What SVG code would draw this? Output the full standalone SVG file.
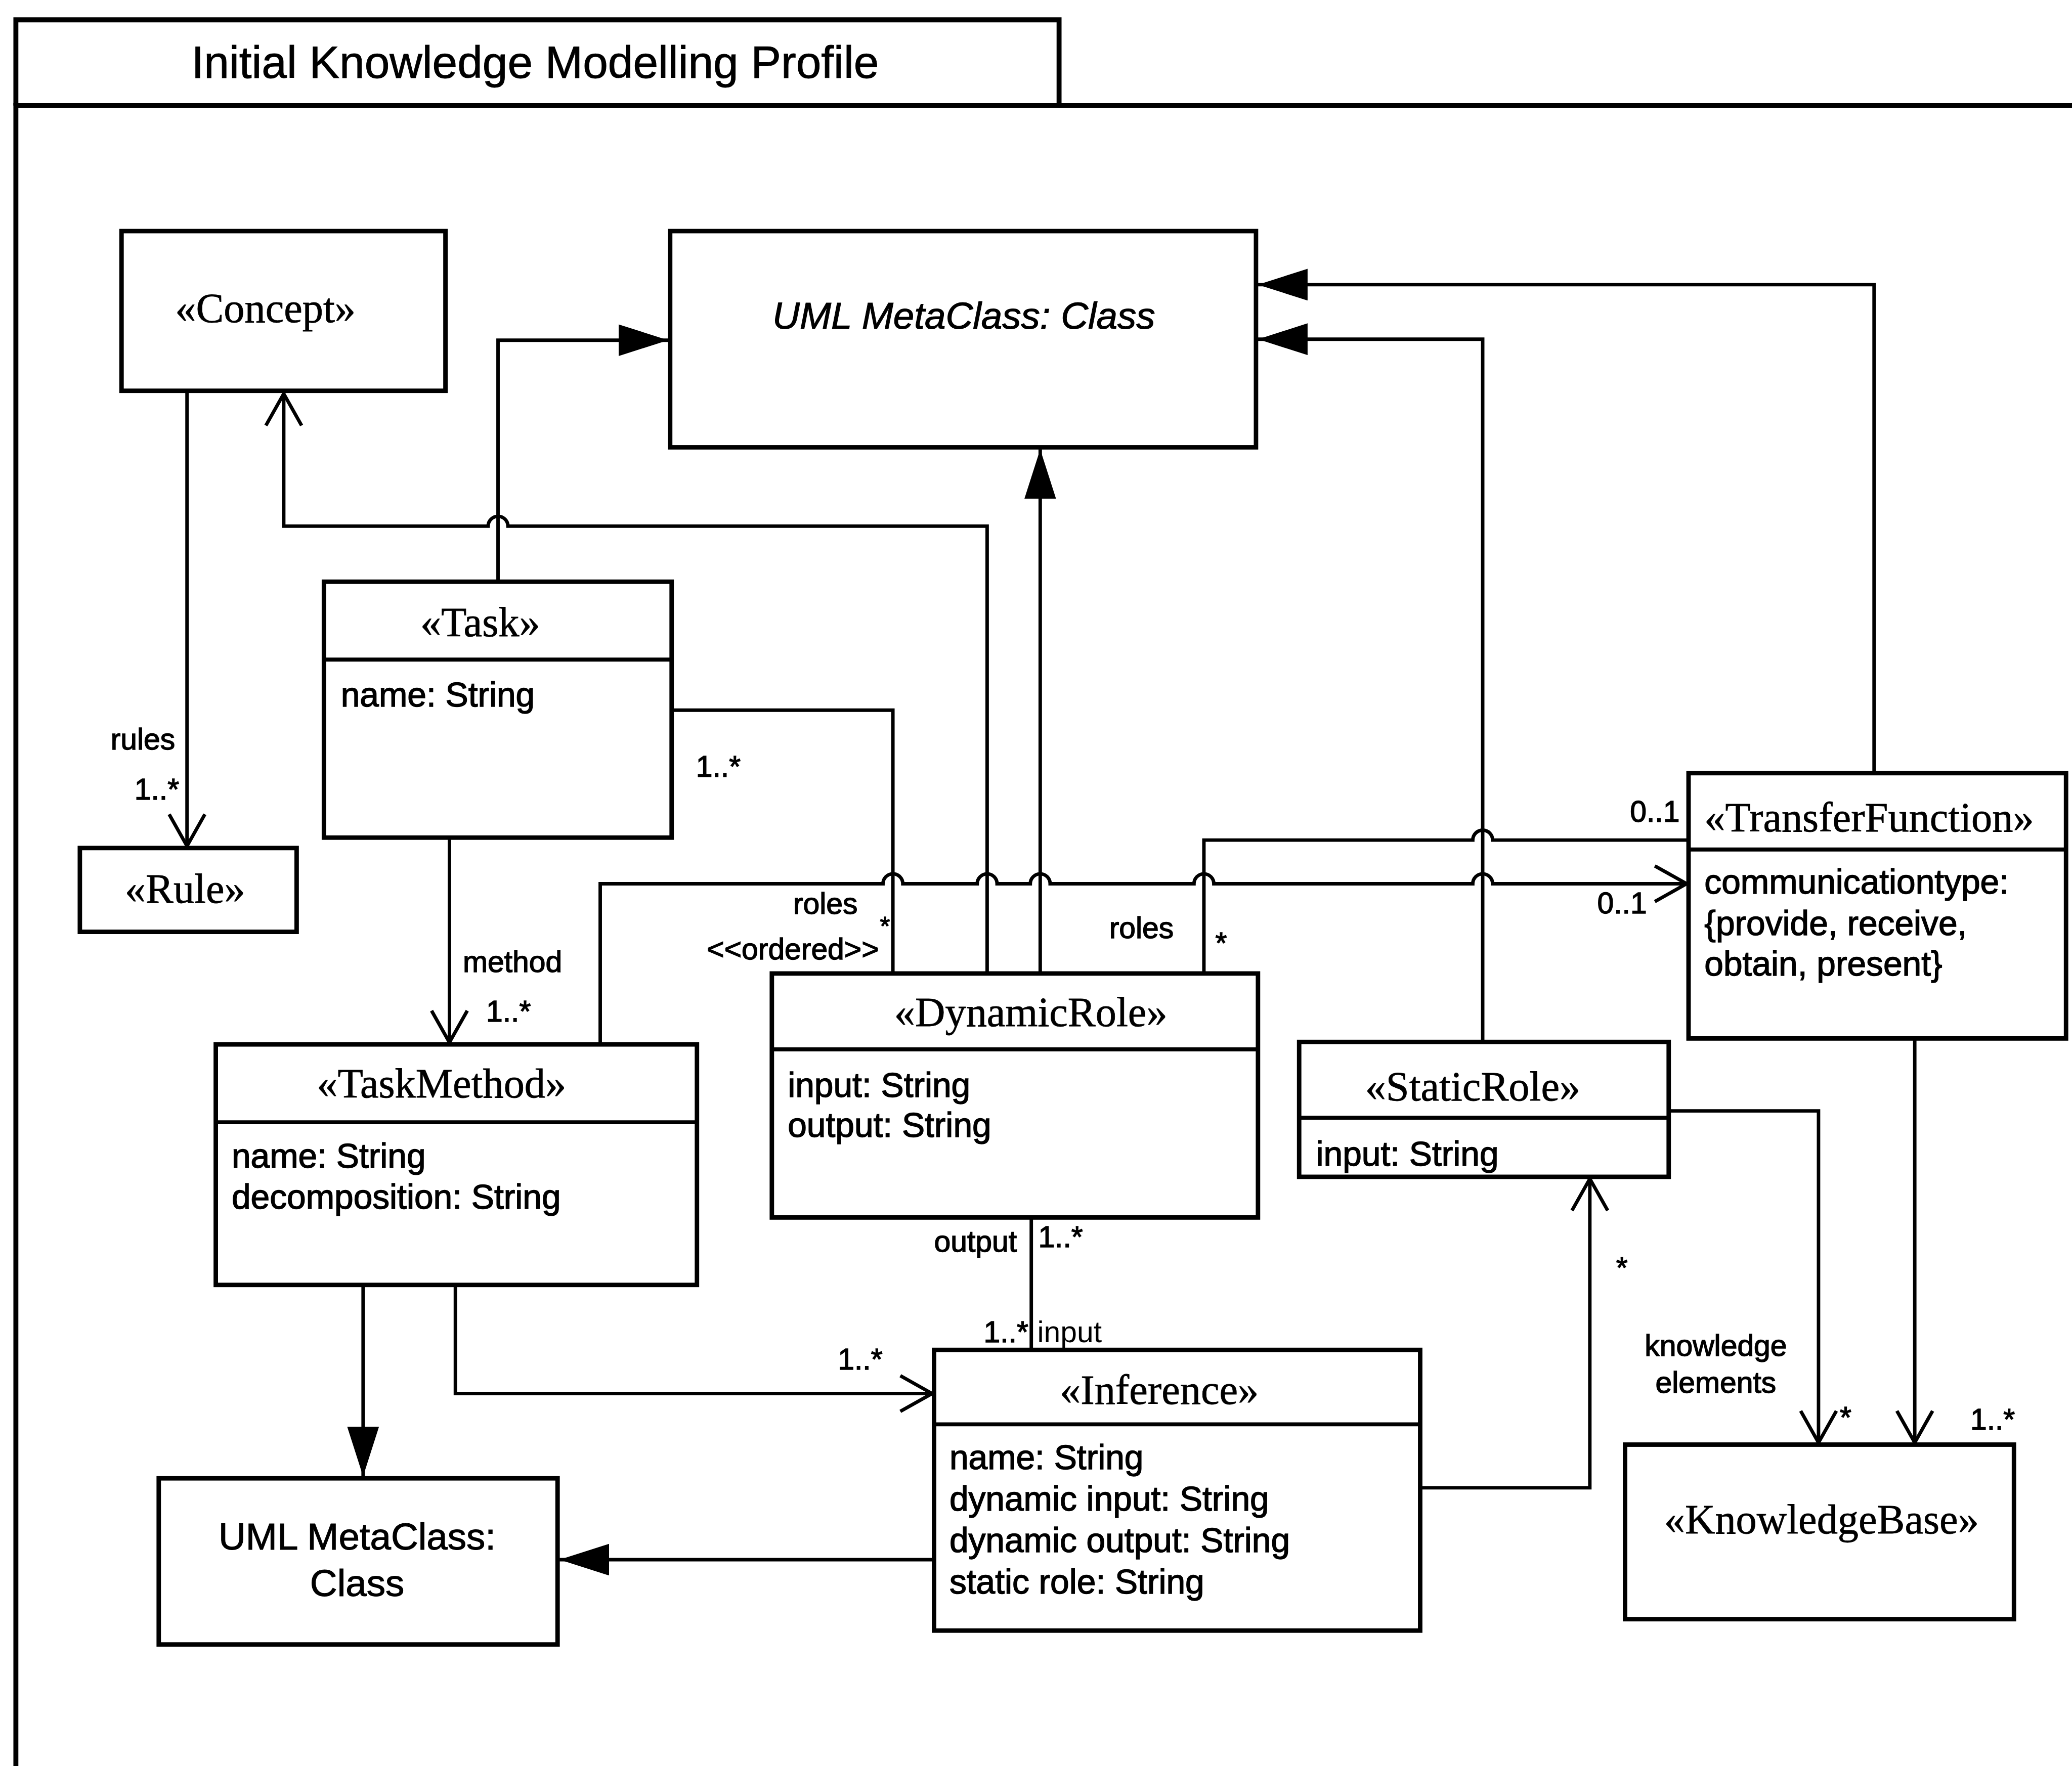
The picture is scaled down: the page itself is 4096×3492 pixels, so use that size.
<svg xmlns="http://www.w3.org/2000/svg" width="4096" height="3492" viewBox="0 0 4096 3492">
  <defs>
    <style>
      .frame{fill:none;stroke:#000;stroke-width:10}
      .box{fill:#fff;stroke:#000;stroke-width:9}
      .div{stroke:#000;stroke-width:8}
      .ln{fill:none;stroke:#000;stroke-width:7}
      .st{font-family:"Liberation Serif","Times New Roman",serif;font-size:84px;text-anchor:middle;fill:#000;stroke:#000;stroke-width:0.8}
      .at{font-family:"Liberation Sans",Arial,sans-serif;font-size:69px;fill:#000;stroke:#000;stroke-width:1.5}
      .lb{font-family:"Liberation Sans",Arial,sans-serif;font-size:60px;fill:#000;stroke:#000;stroke-width:1.5}
      .ttl{font-family:"Liberation Sans",Arial,sans-serif;font-size:91px;fill:#000;stroke:#000;stroke-width:1}
      .meta{font-family:"Liberation Sans",Arial,sans-serif;font-size:76px;fill:#000;stroke:#000;stroke-width:1.2}
    </style>
    <!-- filled triangle: generalization -->
    <marker id="tri" viewBox="0 0 100 64" refX="100" refY="32" markerWidth="100" markerHeight="64" markerUnits="userSpaceOnUse" orient="auto">
      <path d="M0,0 L100,32 L0,64 Z" fill="#000"/>
    </marker>
    <!-- open V arrowhead: navigable association -->
    <marker id="open" viewBox="-6 -6 76 84" refX="64" refY="36" markerWidth="76" markerHeight="84" markerUnits="userSpaceOnUse" orient="auto">
      <path d="M0,0 L64,36 L0,72" fill="none" stroke="#000" stroke-width="7"/>
    </marker>
  </defs>

  <rect width="4096" height="3492" fill="#fff"/>

  <g transform="scale(0.980608)">
    <!-- package frame with name tab -->
    <g id="package">
      <path class="frame" d="M32,3561 V213 H4177"/>
      <path class="frame" d="M32,213 V40 H2135 V213"/>
      <text class="ttl" x="386" y="157">Initial Knowledge Modelling Profile</text>
    </g>

    <!-- connectors -->
    <g id="connectors">
      <path class="ln" d="M377,790 V1706" marker-end="url(#open)"/>
      <path class="ln" d="M1990,1963 V1061 H1024 A20,20 0 0 0 984,1061 H572 V794" marker-end="url(#open)"/>
      <path class="ln" d="M1004,1173 V686 H1347" marker-end="url(#tri)"/>
      <path class="ln" d="M2097,1963 V906" marker-end="url(#tri)"/>
      <path class="ln" d="M2989,2101 V684 H2536" marker-end="url(#tri)"/>
      <path class="ln" d="M3778,1559 V574 H2536" marker-end="url(#tri)"/>
      <path class="ln" d="M1354,1432 H1800 V1963"/>
      <path class="ln" d="M1210,2106 V1782 H1780 A20,20 0 0 1 1820,1782 H1970 A20,20 0 0 1 2010,1782 H2077 A20,20 0 0 1 2117,1782 H2407 A20,20 0 0 1 2447,1782 H2969 A20,20 0 0 1 3009,1782 H3400" marker-end="url(#open)"/>
      <path class="ln" d="M2427,1963 V1694 H2969 A20,20 0 0 1 3009,1694 H3404"/>
      <path class="ln" d="M906,1689 V2102" marker-end="url(#open)"/>
      <path class="ln" d="M732,2591 V2977" marker-end="url(#tri)"/>
      <path class="ln" d="M918,2591 V2810 H1879" marker-end="url(#open)"/>
      <path class="ln" d="M2079,2455 V2722"/>
      <path class="ln" d="M1883,3145 H1128" marker-end="url(#tri)"/>
      <path class="ln" d="M2863,3000 H3205 V2377" marker-end="url(#open)"/>
      <path class="ln" d="M3364,2240 H3666 V2909" marker-end="url(#open)"/>
      <path class="ln" d="M3860,2094 V2909" marker-end="url(#open)"/>

      <!-- role names and multiplicities -->
      <text class="lb" x="223" y="1511">rules</text>
      <text class="lb" x="271" y="1612">1..*</text>
      <text class="lb" x="1403" y="1566">1..*</text>
      <text class="lb" x="933" y="1960">method</text>
      <text class="lb" x="980" y="2060">1..*</text>
      <text class="lb" x="1599" y="1843">roles</text>
      <text class="lb" x="1774" y="1886" style="font-size:52px">*</text>
      <text class="lb" x="1425" y="1935">&lt;&lt;ordered&gt;&gt;</text>
      <text class="lb" x="2236" y="1892">roles</text>
      <text class="lb" x="2450" y="1922">*</text>
      <text class="lb" x="3286" y="1657">0..1</text>
      <text class="lb" x="3220" y="1842">0..1</text>
      <text class="lb" x="1883" y="2524">output</text>
      <text class="lb" x="2093" y="2515">1..*</text>
      <text class="lb" x="1983" y="2706">1..*</text>
      <text class="lb" x="2091" y="2706" style="stroke-width:0">input</text>
      <text class="lb" x="1689" y="2762">1..*</text>
      <text class="lb" x="3258" y="2577">*</text>
      <text class="lb" x="3459" y="2734" style="text-anchor:middle">knowledge</text>
      <text class="lb" x="3459" y="2808" style="text-anchor:middle">elements</text>
      <text class="lb" x="3709" y="2879">*</text>
      <text class="lb" x="3972" y="2883">1..*</text>
    </g>

    <!-- classes -->
    <g id="concept">
      <rect class="box" x="245" y="466" width="653" height="322"/>
      <text class="st" x="535" y="650">«Concept»</text>
    </g>

    <g id="uml-metaclass-top">
      <rect class="box" x="1351" y="466" width="1181" height="436"/>
      <text class="meta" x="1943" y="663" style="text-anchor:middle;font-style:italic">UML MetaClass: Class</text>
    </g>

    <g id="task">
      <rect class="box" x="653" y="1173" width="701" height="516"/>
      <line class="div" x1="653" y1="1330" x2="1354" y2="1330"/>
      <text class="st" x="968" y="1283">«Task»</text>
      <text class="at" x="687" y="1425">name: String</text>
    </g>

    <g id="rule">
      <rect class="box" x="161" y="1710" width="437" height="169"/>
      <text class="st" x="373" y="1820">«Rule»</text>
    </g>

    <g id="task-method">
      <rect class="box" x="435" y="2106" width="970" height="485"/>
      <line class="div" x1="435" y1="2263" x2="1405" y2="2263"/>
      <text class="st" x="890" y="2213">«TaskMethod»</text>
      <text class="at" x="467" y="2355">name: String</text>
      <text class="at" x="467" y="2437">decomposition: String</text>
    </g>

    <g id="dynamic-role">
      <rect class="box" x="1556" y="1963" width="980" height="492"/>
      <line class="div" x1="1556" y1="2116" x2="2536" y2="2116"/>
      <text class="st" x="2078" y="2069">«DynamicRole»</text>
      <text class="at" x="1588" y="2212">input: String</text>
      <text class="at" x="1588" y="2292">output: String</text>
    </g>

    <g id="static-role">
      <rect class="box" x="2619" y="2101" width="745" height="272"/>
      <line class="div" x1="2619" y1="2254" x2="3364" y2="2254"/>
      <text class="st" x="2969" y="2219">«StaticRole»</text>
      <text class="at" x="2653" y="2351">input: String</text>
    </g>

    <g id="transfer-function">
      <rect class="box" x="3404" y="1559" width="761" height="535"/>
      <line class="div" x1="3404" y1="1713" x2="4165" y2="1713"/>
      <text class="st" x="3436" y="1677" style="text-anchor:start">«TransferFunction»</text>
      <text class="at" x="3436" y="1802">communicationtype:</text>
      <text class="at" x="3436" y="1886">{provide, receive,</text>
      <text class="at" x="3436" y="1967">obtain, present}</text>
    </g>

    <g id="inference">
      <rect class="box" x="1883" y="2722" width="980" height="566"/>
      <line class="div" x1="1883" y1="2872" x2="2863" y2="2872"/>
      <text class="st" x="2337" y="2831">«Inference»</text>
      <text class="at" x="1914" y="2962">name: String</text>
      <text class="at" x="1914" y="3046">dynamic input: String</text>
      <text class="at" x="1914" y="3130">dynamic output: String</text>
      <text class="at" x="1914" y="3213">static role: String</text>
    </g>

    <g id="uml-metaclass-bottom">
      <rect class="box" x="320" y="2981" width="804" height="335"/>
      <text class="meta" x="720" y="3125" style="text-anchor:middle">UML MetaClass:</text>
      <text class="meta" x="720" y="3218" style="text-anchor:middle">Class</text>
    </g>

    <g id="knowledge-base">
      <rect class="box" x="3276" y="2913" width="784" height="352"/>
      <text class="st" x="3672" y="3092">«KnowledgeBase»</text>
    </g>
  </g>
</svg>
